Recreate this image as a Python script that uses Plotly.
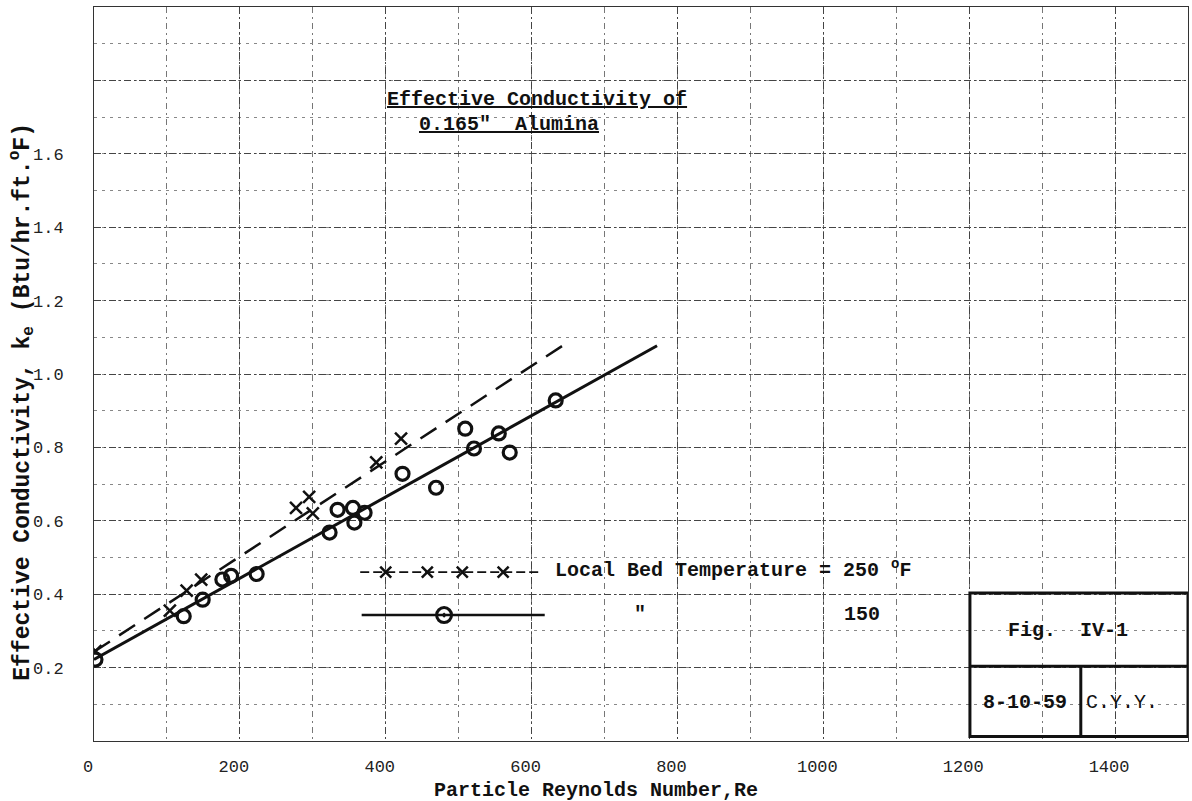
import plotly.graph_objects as go

# ---------------- data ----------------
re_150 = [2, 123, 149, 176, 188, 223, 323, 334, 355, 357, 371, 423, 469, 509, 521, 555, 570, 633]
k_150 = [0.222, 0.34, 0.385, 0.44, 0.45, 0.455, 0.568, 0.63, 0.635, 0.595, 0.622, 0.728, 0.69, 0.851, 0.797, 0.838, 0.786, 0.928]

re_250 = [2, 104, 127, 147, 277, 295, 300, 387, 421]
k_250 = [0.245, 0.355, 0.41, 0.44, 0.635, 0.665, 0.62, 0.759, 0.824]

fit_re_150 = [0, 772]
fit_k_150 = [0.222, 1.077]
fit_re_250 = [0, 647]
fit_k_250 = [0.243, 1.083]

x_ticks = [0, 200, 400, 600, 800, 1000, 1200, 1400]
y_ticks = [0.0, 0.2, 0.4, 0.6, 0.8, 1.0, 1.2, 1.4, 1.6, 1.8, 2.0]
y_ticktext = ["", "0.2", "0.4", "0.6", "0.8", "1.0", "1.2", "1.4", "1.6", "", ""]

FONT = "Liberation Mono"
INK = "#111111"

fig = go.Figure()

# fitted lines
fig.add_trace(go.Scatter(x=fit_re_250, y=fit_k_250, mode="lines",
                         line=dict(color=INK, width=2.5, dash="19px,11px"),
                         showlegend=False, hoverinfo="skip"))
fig.add_trace(go.Scatter(x=fit_re_150, y=fit_k_150, mode="lines",
                         line=dict(color=INK, width=3),
                         showlegend=False, hoverinfo="skip"))
# data points
fig.add_trace(go.Scatter(x=re_250, y=k_250, mode="markers",
                         marker=dict(symbol="x-thin", size=12, line=dict(color=INK, width=2.5)),
                         showlegend=False))
fig.add_trace(go.Scatter(x=re_150, y=k_150, mode="markers",
                         marker=dict(symbol="circle-open", size=13, color=INK, line=dict(color=INK, width=3.2)),
                         showlegend=False))

# hand-drawn style legend keys (layout decoration)
leg_y1, leg_y2 = 0.460, 0.343
fig.add_trace(go.Scatter(x=[365, 612], y=[leg_y1, leg_y1], mode="lines",
                         line=dict(color=INK, width=1.8, dash="9px,4px"),
                         showlegend=False, hoverinfo="skip"))
fig.add_trace(go.Scatter(x=[400, 457, 505, 561], y=[leg_y1] * 4, mode="markers",
                         marker=dict(symbol="x-thin", size=11, line=dict(color=INK, width=2.5)),
                         showlegend=False, hoverinfo="skip"))
fig.add_trace(go.Scatter(x=[367, 618], y=[leg_y2, leg_y2], mode="lines",
                         line=dict(color=INK, width=2.5),
                         showlegend=False, hoverinfo="skip"))
fig.add_trace(go.Scatter(x=[480], y=[leg_y2], mode="markers",
                         marker=dict(symbol="circle-open-dot", size=15, color=INK, line=dict(color=INK, width=3)),
                         showlegend=False, hoverinfo="skip"))

ann = []
def text(x, y, s, size=20, xanchor="left", bold=True, **kw):
    ann.append(dict(x=x, y=y, xref="x", yref="y", text=(f"<b>{s}</b>" if bold else s),
                    showarrow=False, xanchor=xanchor, yanchor="middle",
                    font=dict(family=FONT, size=size, color=INK), **kw))

text(399, 1.747, "<u>Effective Conductivity of</u>")
text(443, 1.680, "<u>0.165\"  Alumina</u>")
text(629, 0.470, "Local Bed Temperature = 250 <sup>o</sup>F")
text(749, 0.346, "\"", xanchor="center")
text(1053, 0.346, "150", xanchor="center")
text(1335, 0.302, "Fig.  IV-1", xanchor="center")
text(1277, 0.104, "8-10-59", xanchor="center")
text(1410, 0.104, "C.Y.Y.", xanchor="center", bold=False)

# axis titles as annotations
ann.append(dict(x=-0.066, y=0.462, xref="paper", yref="paper", textangle=-90, showarrow=False,
                text="<b>Effective Conductivity, k<sub>e</sub> (Btu/hr.ft.<sup>o</sup>F)</b>",
                font=dict(family=FONT, size=23, color=INK), xanchor="center", yanchor="middle"))
ann.append(dict(x=0.459, y=-0.068, xref="paper", yref="paper", showarrow=False,
                text="<b>Particle Reynolds Number,Re</b>",
                font=dict(family=FONT, size=20, color=INK), xanchor="center", yanchor="middle"))

# title-block box
box = dict(type="rect", xref="x", yref="y", x0=1201, x1=1500, y0=0.012, y1=0.403,
           line=dict(color=INK, width=3))
shapes = [box,
          dict(type="line", xref="x", yref="y", x0=1201, x1=1500, y0=0.204, y1=0.204,
               line=dict(color=INK, width=3)),
          dict(type="line", xref="x", yref="y", x0=1353, x1=1353, y0=0.012, y1=0.204,
               line=dict(color=INK, width=3))]

fig.update_layout(
    width=1192, height=801,
    margin=dict(l=94, r=4, t=7, b=60),
    paper_bgcolor="white", plot_bgcolor="white",
    annotations=ann, shapes=shapes,
    showlegend=False,
    xaxis=dict(range=[0, 1500], tickvals=x_ticks, ticks="", showline=True, mirror=True,
               linecolor="#333", linewidth=1, zeroline=False,
               gridcolor="#444", griddash="7px,3px,2px,3px", gridwidth=1,
               minor=dict(dtick=100, tick0=0, showgrid=True, gridcolor="#777",
                          griddash="6px,4px,2px,4px", gridwidth=1),
               tickfont=dict(family=FONT, size=17, color="#222"),
               ticklabelstandoff=10, ticklabelshift=-6),
    yaxis=dict(range=[0, 2.0], tickvals=y_ticks, ticktext=y_ticktext, ticks="", showline=True,
               mirror=True, linecolor="#333", linewidth=1, zeroline=False,
               gridcolor="#444", griddash="7px,3px,2px,3px", gridwidth=1,
               minor=dict(dtick=0.1, tick0=0, showgrid=True, gridcolor="#888",
                          griddash="3px,5px", gridwidth=1),
               tickfont=dict(family=FONT, size=17, color="#222"),
               ticklabelstandoff=26),
)

fig.write_html("out.html")
